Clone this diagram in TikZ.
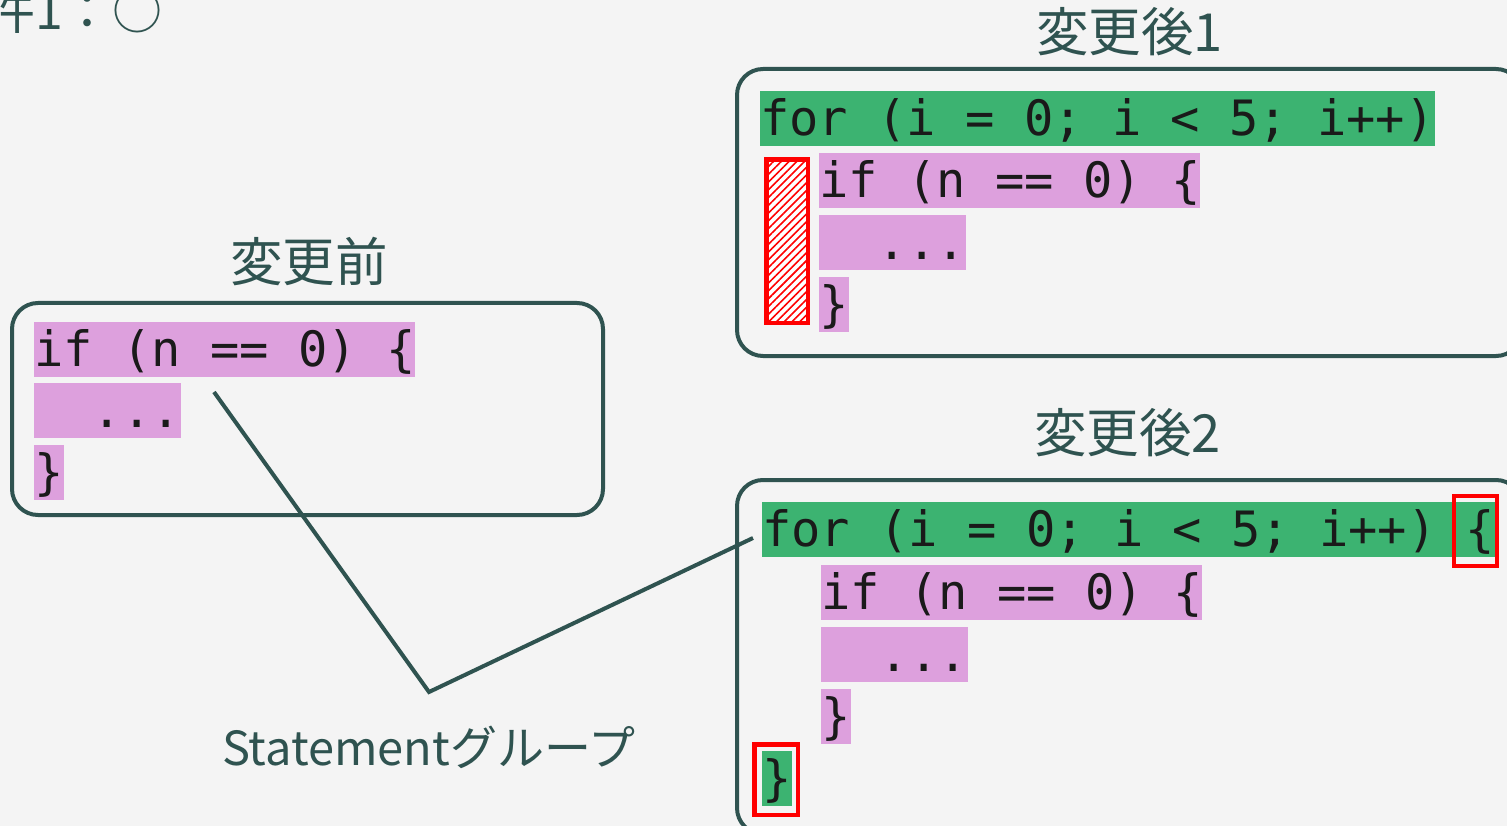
\documentclass[tikz,border=0pt]{standalone}
\usepackage{fontspec}
\usetikzlibrary{patterns.meta}
\newfontfamily\cjkfont{Noto Sans CJK JP}
\newfontfamily\codefont{DejaVu Sans Mono}
\definecolor{bg}{HTML}{F4F4F4}
\definecolor{slate}{HTML}{2F5350}
\definecolor{plumhl}{HTML}{DDA0DD}
\definecolor{greenhl}{HTML}{3CB371}
\definecolor{ink}{HTML}{1A1A1A}

\tikzset{
  frame/.style={draw=slate, line width=4pt, rounded corners=26pt},
  code/.style={font=\codefont\fontsize{48.7}{58}\selectfont, text=ink,
    inner sep=0pt, text height=44pt, text depth=11pt, anchor=north west},
  pinkrow/.style={code, fill=plumhl},
  greenrow/.style={code, fill=greenhl},
  title/.style={font=\cjkfont\fontsize{52.5}{62}\selectfont, text=slate,
    anchor=base west, inner sep=0pt},
  redbox/.style={draw=red, line width=4.5pt, inner sep=0pt},
  hatched/.style={fill=white, postaction={pattern={Lines[angle=45, distance=5.5pt, line width=1.6pt]}, pattern color=red}},
  link/.style={draw=slate, line width=4pt}
}

\begin{document}
\begin{tikzpicture}[x=1pt, y=-1pt]
  % page and background
  \useasboundingbox (0,0) rectangle (1507,826);
  \fill[bg] (0,0) rectangle (1507,826);

  % condition caption, running off the top-left edge
  \node[title, font=\cjkfont\fontsize{50}{60}\selectfont] (cond) at (-15,30) {件1：○};

  % frames
  \draw[frame] (12,303) rectangle (603,515);
  \draw[frame] (737,69) rectangle (1522,356);
  \draw[frame] (737,480) rectangle (1522,834);

  % titles
  \node[title] (tbefore) at (230,282) {変更前};
  \node[title] (tafter1) at (1036,52) {変更後1};
  \node[title] (tafter2) at (1034,452) {変更後2};

  % before
  \node[pinkrow] (a1) at (34,322) {if (n == 0) \{};
  \node[pinkrow] (a2) at (34,383) {\hphantom{00}...};
  \node[pinkrow] (a3) at (34,445) {\}};

  % after 1
  \node[greenrow] (b0) at (760,91) {for (i = 0; i < 5; i++)};
  \node[pinkrow] (b1) at (819,153) {if (n == 0) \{};
  \node[pinkrow] (b2) at (819,215) {\hphantom{00}...};
  \node[pinkrow] (b3) at (819,277) {\}};
  \node[redbox, hatched, minimum width=41.5pt, minimum height=163.5pt,
        anchor=north west] (gap) at (764.25,157.25) {};

  % after 2
  \node[greenrow] (c0) at (762,502) {for (i = 0; i < 5; i++) \{};
  \node[pinkrow] (c1) at (821,565) {if (n == 0) \{};
  \node[pinkrow] (c2) at (821,627) {\hphantom{00}...};
  \node[pinkrow] (c3) at (821,689) {\}};
  \node[greenrow] (c4) at (762,751) {\}};
  \node[redbox, minimum width=43pt, minimum height=70pt] (copen) at (1475.5,531) {};
  \node[redbox, minimum width=43.5pt, minimum height=70.5pt] (cclose) at (776,779.5) {};

  % statement group label and its leader lines
  \node[title, font=\cjkfont\fontsize{47}{56}\selectfont] (grp) at (222,765) {Statementグループ};
  \coordinate (p1) at (214,392);
  \coordinate (junc) at (429,692);
  \coordinate (p2) at (753,538);
  \draw[link] (p1) -- (junc) -- (p2);
\end{tikzpicture}
\end{document}
